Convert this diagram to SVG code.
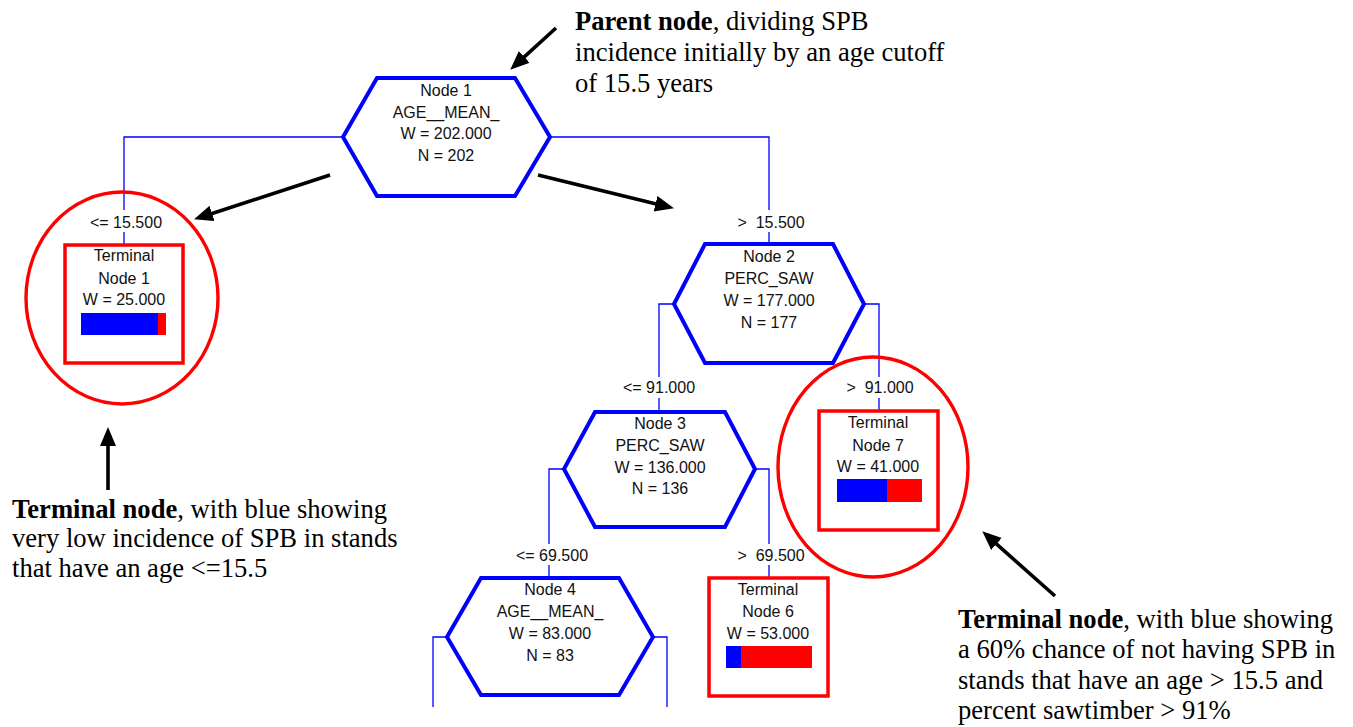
<svg xmlns="http://www.w3.org/2000/svg" width="1353" height="727" viewBox="0 0 1353 727">
  <style>
    .hex { fill: #ffffff; stroke: #0000ff; stroke-width: 4; stroke-linejoin: miter; }
    .term { fill: #ffffff; stroke: #ff0000; stroke-width: 3.5; }
    .link { fill: none; stroke: #0000ff; stroke-width: 1.3; }
    .t { font-family: "Liberation Sans", Arial, sans-serif; font-size: 16px; fill: #111111; text-anchor: middle; white-space: pre; }
    .note { font-family: "Liberation Serif", "Times New Roman", serif; font-size: 26.6px; fill: #000000; }
    .note tspan.b { font-weight: bold; }
    .ring { fill: none; stroke: #ff0000; stroke-width: 3.4; }
    .pointer { stroke: #000000; stroke-width: 3.6; fill: none; marker-end: url(#head); }
    .blue { fill: #0000ff; }
    .red { fill: #ff0000; }
  </style>
  <defs>
    <marker id="head" markerUnits="userSpaceOnUse" markerWidth="22" markerHeight="18" refX="4" refY="8" orient="auto">
      <path d="M0,0 L19,8 L0,16 z" fill="#000000"/>
    </marker>
  </defs>

  <rect x="0" y="0" width="1353" height="727" fill="#ffffff"/>

  <!-- tree connectors with split labels -->
  <g id="connectors">
    <path class="link" d="M343,137 H124 V210 M124,232 V245"/>
    <path class="link" d="M550,137 H769 V210 M769,232 V244"/>
    <path class="link" d="M674,304 H659 V377 M659,398 V412"/>
    <path class="link" d="M864,304 H879 V377 M879,398 V411"/>
    <path class="link" d="M564,469 H549 V544 M549,565 V578"/>
    <path class="link" d="M755,469 H769 V544 M769,565 V578"/>
    <path class="link" d="M447,637 H433 V707"/>
    <path class="link" d="M653,637 H667 V707"/>
    <text class="t" x="126" y="228">&lt;= 15.500</text>
    <text class="t" x="771" y="228">&gt;  15.500</text>
    <text class="t" x="659" y="393">&lt;= 91.000</text>
    <text class="t" x="880" y="393">&gt;  91.000</text>
    <text class="t" x="552" y="561">&lt;= 69.500</text>
    <text class="t" x="771" y="561">&gt;  69.500</text>
  </g>

  <g id="node1">
    <polygon class="hex" points="377,78 515,78 550,137 515,196 377,196 343,137"/>
    <text class="t" x="446" y="96">Node 1</text>
    <text class="t" x="446" y="118">AGE__MEAN_</text>
    <text class="t" x="446" y="139">W = 202.000</text>
    <text class="t" x="446" y="161">N = 202</text>
  </g>

  <g id="node2">
    <polygon class="hex" points="705,244 833,244 864,304 833,363 705,363 674,304"/>
    <text class="t" x="769" y="262">Node 2</text>
    <text class="t" x="769" y="284">PERC_SAW</text>
    <text class="t" x="769" y="306">W = 177.000</text>
    <text class="t" x="769" y="328">N = 177</text>
  </g>

  <g id="node3">
    <polygon class="hex" points="595,412 725,412 755,469 725,527 595,527 564,469"/>
    <text class="t" x="660" y="429">Node 3</text>
    <text class="t" x="660" y="451">PERC_SAW</text>
    <text class="t" x="660" y="473">W = 136.000</text>
    <text class="t" x="660" y="494">N = 136</text>
  </g>

  <g id="node4">
    <polygon class="hex" points="481,578 619,578 653,637 619,695 481,695 447,637"/>
    <text class="t" x="550" y="595">Node 4</text>
    <text class="t" x="550" y="617">AGE__MEAN_</text>
    <text class="t" x="550" y="639">W = 83.000</text>
    <text class="t" x="550" y="661">N = 83</text>
  </g>

  <g id="terminal1">
    <rect class="term" x="65" y="245" width="118" height="118"/>
    <text class="t" x="124" y="261">Terminal</text>
    <text class="t" x="124" y="284">Node 1</text>
    <text class="t" x="124" y="305">W = 25.000</text>
    <rect class="blue" x="81" y="313" width="77" height="22"/>
    <rect class="red" x="158" y="313" width="8" height="22"/>
  </g>

  <g id="terminal7">
    <rect class="term" x="819" y="411" width="119" height="119"/>
    <text class="t" x="878" y="428">Terminal</text>
    <text class="t" x="878" y="451">Node 7</text>
    <text class="t" x="878" y="472">W = 41.000</text>
    <rect class="blue" x="837" y="479" width="50" height="23"/>
    <rect class="red" x="887" y="479" width="35" height="23"/>
  </g>

  <g id="terminal6">
    <rect class="term" x="709" y="578" width="119" height="118"/>
    <text class="t" x="768" y="595">Terminal</text>
    <text class="t" x="768" y="617">Node 6</text>
    <text class="t" x="768" y="639">W = 53.000</text>
    <rect class="blue" x="726" y="646" width="15" height="22"/>
    <rect class="red" x="741" y="646" width="71" height="22"/>
  </g>

  <!-- highlight rings -->
  <g id="highlights">
    <ellipse class="ring" cx="122" cy="298" rx="96" ry="106"/>
    <ellipse class="ring" cx="873" cy="467" rx="95" ry="110"/>
  </g>

  <!-- callout arrows -->
  <g id="pointers">
    <line class="pointer" x1="556" y1="28" x2="521.3" y2="59.6"/>
    <line class="pointer" x1="330" y1="175" x2="208.3" y2="214.7"/>
    <line class="pointer" x1="538" y1="175" x2="659.4" y2="204.7"/>
    <line class="pointer" x1="108" y1="490" x2="108" y2="442"/>
    <line class="pointer" x1="1055" y1="596" x2="993.5" y2="541.3"/>
  </g>

  <!-- annotations -->
  <g id="note-parent">
    <text class="note" x="575" y="30"><tspan class="b">Parent node</tspan>, dividing SPB</text>
    <text class="note" x="575" y="61">incidence initially by an age cutoff</text>
    <text class="note" x="575" y="92">of 15.5 years</text>
  </g>
  <g id="note-terminal1">
    <text class="note" x="12" y="518"><tspan class="b">Terminal node</tspan>, with blue showing</text>
    <text class="note" x="12" y="547">very low incidence of SPB in stands</text>
    <text class="note" x="12" y="577">that have an age &lt;=15.5</text>
  </g>
  <g id="note-terminal7">
    <text class="note" x="958" y="628"><tspan class="b">Terminal node</tspan>, with blue showing</text>
    <text class="note" x="958" y="658">a 60% chance of not having SPB in</text>
    <text class="note" x="958" y="689">stands that have an age &gt; 15.5 and</text>
    <text class="note" x="958" y="719">percent sawtimber &gt; 91%</text>
  </g>
</svg>
